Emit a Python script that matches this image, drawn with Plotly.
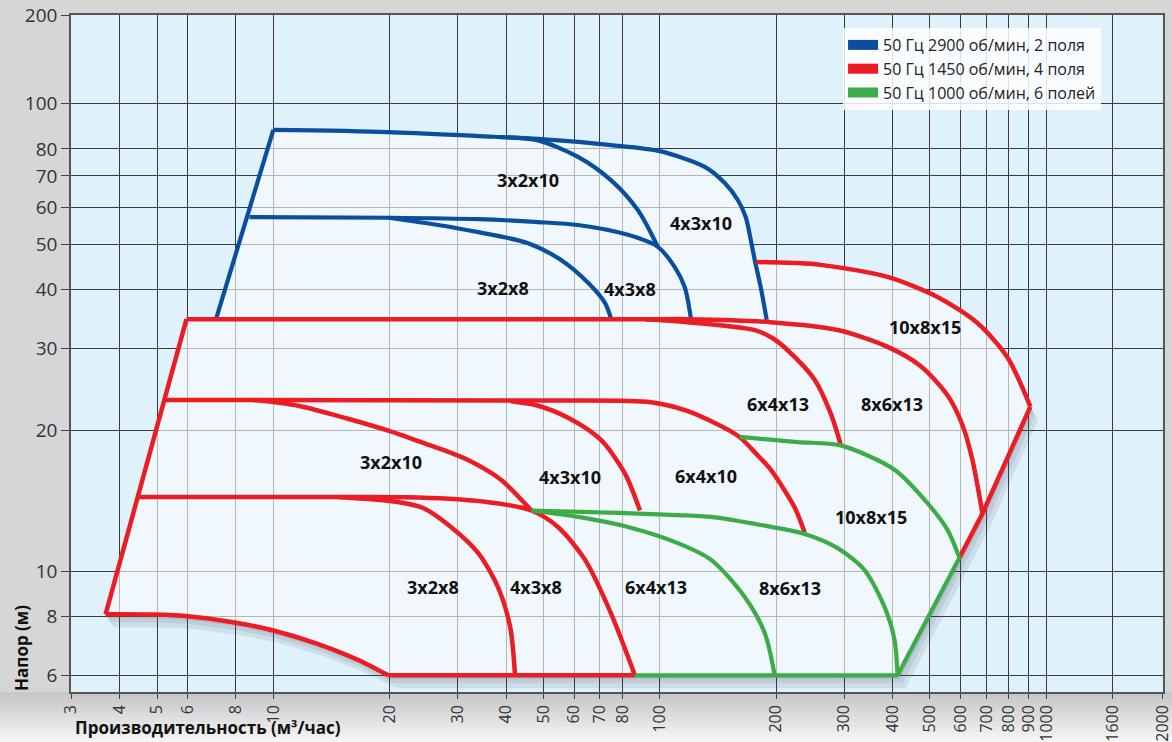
import numpy as np
import plotly.graph_objects as go

# ---------------- axis ticks ----------------
x_tick_vals = [3, 4, 5, 6, 8, 10, 20, 30, 40, 50, 60, 70, 80, 100, 200, 300, 400,
               500, 600, 700, 800, 900, 1000, 1485, 2000]
x_tick_text = ["3", "4", "5", "6", "8", "10", "20", "30", "40", "50", "60", "70", "80",
               "100", "200", "300", "400", "500", "600", "700", "800", "900", "1000",
               "1600", "2000"]
y_tick_vals = [6, 8, 10, 20, 30, 40, 50, 60, 70, 80, 100, 154.3]
y_tick_text = ["6", "8", "10", "20", "30", "40", "50", "60", "70", "80", "100", "200"]

# ---------------- 2900 rpm (blue) ----------------
blue_edge_q = [7.12, 10.0]
blue_edge_h = [34.8, 87.8]
blue_4x3x10_q = [10.0, 19.8, 33.9, 48.4, 74.7, 100, 130.7, 147.2, 159.1, 166.8, 171.9, 176.0, 182.4, 189.0]
blue_4x3x10_h = [87.8, 86.9, 85.2, 84.0, 81.5, 79.1, 73.2, 67.6, 62.2, 57.2, 51.1, 46.3, 40.5, 34.5]
blue_3x2x10_q = [38.1, 48.4, 61.4, 74.7, 87.7, 98.8]
blue_3x2x10_h = [84.8, 83.4, 76.9, 68.6, 59.2, 49.4]
blue_4x3x8_q = [8.67, 19.9, 33.9, 48.4, 61.4, 82.7, 98.8, 109.3, 116.0, 120.3]
blue_4x3x8_h = [57.2, 57.0, 56.6, 55.8, 55.0, 52.4, 49.4, 44.7, 40.5, 34.8]
blue_3x2x8_q = [19.9, 26.7, 33.9, 45.6, 55.5, 65.2, 72.1, 74.7]
blue_3x2x8_h = [57.0, 55.0, 53.1, 50.3, 46.3, 41.4, 37.5, 34.8]

# ---------------- 1450 rpm (red) ----------------
red_edge_q = [3.68, 5.96]
red_edge_h = [8.1, 34.6]
red_top_q = [5.96, 50, 91.5, 118.2, 193.6, 288.4, 388.3, 472.5, 555, 606.7, 644, 683.4]
red_top_h = [34.6, 34.6, 34.6, 34.6, 34.1, 32.8, 30.2, 27.5, 23.8, 20.56, 17.3, 13.3]
red_6x4x13_q = [91.5, 118.2, 176.0, 195.9, 214.2, 251.5, 276.6, 293.6]
red_6x4x13_h = [34.6, 34.1, 32.8, 31.5, 29.7, 25.7, 21.8, 18.7]
red_10x8x15_q = [177.1, 227.3, 260.6, 388.3, 522.8, 663.2, 792.9, 909.3]
red_10x8x15_h = [45.85, 45.6, 45.2, 42.6, 38.6, 33.96, 28.7, 22.5]
red_right_q = [909.3, 683.4, 596.0]
red_right_h = [22.5, 13.3, 10.7]
red_23_q = [5.22, 50, 94.8, 118.2, 159.1, 179.2, 193.6, 223.3, 237.0]
red_23_h = [23.25, 23.2, 23.0, 22.0, 19.5, 17.7, 16.5, 13.7, 12.1]
red_4x3x10_q = [41.2, 48.4, 57.9, 70.4, 81.2, 88.8]
red_4x3x10_h = [23.1, 22.6, 21.3, 19.1, 16.2, 13.5]
red_3x2x10_q = [8.88, 11.6, 15.6, 20.2, 23.7, 26.7, 31.9, 38.8, 46.5]
red_3x2x10_h = [23.25, 22.6, 21.2, 19.9, 19.0, 18.35, 17.3, 15.7, 13.5]
red_14_q = [4.46, 14.7, 23.7, 35.3, 46.5, 54.5, 64.0, 74.7, 86.2]
red_14_h = [14.43, 14.43, 14.4, 14.1, 13.5, 12.45, 10.6, 8.15, 6.0]
red_3x2x8_q = [14.7, 21.0, 24.4, 28.8, 33.9, 38.1, 41.0, 42.2]
red_3x2x8_h = [14.43, 14.08, 13.67, 12.45, 10.95, 9.27, 7.61, 6.0]
red_bottom_q = [3.68, 4.955, 5.925, 7.79, 9.88, 12.84, 16.58, 19.83]
red_bottom_h = [8.1, 8.09, 8.03, 7.80, 7.50, 7.03, 6.47, 6.0]
red_floor_q = [19.83, 86.2]
red_floor_h = [6.0, 6.0]

# ---------------- 1000 rpm (green) ----------------
green_6x4x13_q = [46.5, 61.4, 82.7, 111.3, 135.5, 165.8, 186.8, 198.3]
green_6x4x13_h = [13.5, 13.08, 12.45, 11.5, 10.6, 8.82, 7.39, 6.0]
green_8x6x13_q = [46.5, 77.9, 111.3, 135.5, 182.4, 237.0, 288.4, 338.6, 381.4, 404.8, 412.1]
green_8x6x13_h = [13.5, 13.34, 13.2, 13.08, 12.57, 12.03, 11.22, 10.07, 8.40, 7.14, 6.0]
green_10x8x15_q = [160.9, 227.3, 293.6, 404.8, 492.6, 555, 596]
green_10x8x15_h = [19.4, 18.9, 18.6, 16.5, 14.0, 12.27, 10.7]
green_right_q = [596.0, 412.1]
green_right_h = [10.7, 6.0]
green_floor_q = [86.2, 412.1]
green_floor_h = [6.0, 6.0]

# ---------------- labels ----------------
label_text = ["3x2x10", "4x3x10", "3x2x8", "4x3x8",
              "10x8x15", "6x4x13", "8x6x13", "3x2x10", "4x3x10", "6x4x10",
              "3x2x8", "4x3x8", "6x4x13",
              "10x8x15", "8x6x13"]
label_q = [45.6, 127.6, 39.3, 83.6, 484, 201.8, 397.7, 20.2, 58.5, 131.5, 25.9, 47.8, 97.6, 351, 216.7]
label_h = [68.6, 55.6, 40.3, 40.1, 33.3, 22.8, 22.8, 17.1, 15.9, 16.0, 9.27, 9.27, 9.27, 13.08, 9.22]

legend_names = ["50 Гц 2900 об/мин, 2 поля", "50 Гц 1450 об/мин, 4 поля", "50 Гц 1000 об/мин, 6 полей"]

BLUE = "#0a4f9e"
RED = "#ec1c24"
GREEN = "#3dab47"
legend_colors = [BLUE, RED, GREEN]

PX_PER_DEC_X = 387.0
PX_PER_DEC_Y = 468.0

fig = go.Figure()


def shifted(qs, hs, dx_px, dy_px):
    fx = 10 ** (dx_px / PX_PER_DEC_X)
    fy = 10 ** (-dy_px / PX_PER_DEC_Y)
    return [q * fx for q in qs], [h * fy for h in hs]


# shadow bands along lower/right boundary
low_q = red_bottom_q + green_floor_q[1:] + green_right_q[::-1][1:] + red_right_q[::-1][1:]
low_h = red_bottom_h + green_floor_h[1:] + green_right_h[::-1][1:] + red_right_h[::-1][1:]
for k in (4, 8, 13):
    sq, sh = shifted(low_q, low_h, k * 0.6, k)
    fig.add_trace(go.Scatter(x=low_q + sq[::-1], y=low_h + sh[::-1], mode="lines",
                             fill="toself", fillcolor="rgba(60,75,90,0.11)",
                             line=dict(width=0), hoverinfo="skip", showlegend=False))

# envelope fill (union of the three speed ranges)
n_top = sum(1 for q in blue_4x3x10_q if q < red_10x8x15_q[0])
env_q = (red_edge_q + blue_edge_q + blue_4x3x10_q[1:n_top] + red_10x8x15_q + red_right_q[1:]
         + green_right_q[1:] + red_bottom_q[::-1])
env_h = (red_edge_h + blue_edge_h + blue_4x3x10_h[1:n_top] + red_10x8x15_h + red_right_h[1:]
         + green_right_h[1:] + red_bottom_h[::-1])
fig.add_trace(go.Scatter(x=env_q, y=env_h, mode="lines", fill="toself",
                         fillcolor="rgba(250,252,253,0.64)", line=dict(width=0),
                         hoverinfo="skip", showlegend=False))


def add_line(q, h, color, width=4.2, shape="spline"):
    line = dict(color=color, width=width, shape=shape)
    if shape == "spline":
        line["smoothing"] = 0.8
    fig.add_trace(go.Scatter(x=q, y=h, mode="lines", line=line,
                             hoverinfo="skip", showlegend=False))


# blue
add_line(blue_edge_q, blue_edge_h, BLUE, shape="linear")
add_line(blue_4x3x10_q, blue_4x3x10_h, BLUE)
add_line(blue_3x2x10_q, blue_3x2x10_h, BLUE)
add_line(blue_4x3x8_q, blue_4x3x8_h, BLUE)
add_line(blue_3x2x8_q, blue_3x2x8_h, BLUE)
# red
add_line(red_edge_q, red_edge_h, RED, 4.5, "linear")
add_line(red_top_q, red_top_h, RED, 4.5)
add_line(red_6x4x13_q, red_6x4x13_h, RED, 4.5)
add_line(red_10x8x15_q, red_10x8x15_h, RED, 4.5)
add_line(red_right_q, red_right_h, RED, 4.5, "linear")
add_line(red_23_q, red_23_h, RED, 4.5)
add_line(red_4x3x10_q, red_4x3x10_h, RED, 4.5)
add_line(red_3x2x10_q, red_3x2x10_h, RED, 4.5)
add_line(red_14_q, red_14_h, RED, 4.5)
add_line(red_3x2x8_q, red_3x2x8_h, RED, 4.5)
add_line(red_bottom_q, red_bottom_h, RED, 4.5)
add_line(red_floor_q, red_floor_h, RED, 4.5, "linear")
# green
add_line(green_6x4x13_q, green_6x4x13_h, GREEN)
add_line(green_8x6x13_q, green_8x6x13_h, GREEN)
add_line(green_10x8x15_q, green_10x8x15_h, GREEN)
add_line(green_right_q, green_right_h, GREEN, shape="linear")
add_line(green_floor_q, green_floor_h, GREEN, shape="linear")

# legend entries
for i, (name, col) in enumerate(zip(legend_names, legend_colors)):
    fig.add_trace(go.Scatter(x=[None], y=[None], mode="lines", name=name,
                             legendgroup=f"g{i}",
                             line=dict(color=col, width=10)))

# curve labels
for t, q, h in zip(label_text, label_q, label_h):
    fig.add_annotation(x=np.log10(q), y=np.log10(h), xref="x", yref="y", text=f"<b>{t}</b>",
                       showarrow=False, xanchor="center", yanchor="middle",
                       font=dict(family="Open Sans", size=18, color="#111"))

# axis titles
fig.add_annotation(x=0.1255, y=-0.0530, xref="paper", yref="paper",
                   xanchor="center", yanchor="middle",
                   text="<b>Производительность (м³/час)</b>", showarrow=False,
                   font=dict(family="Open Sans", size=17, color="#111"))
fig.add_annotation(x=-0.0449, y=0.065, xref="paper", yref="paper",
                   xanchor="center", yanchor="middle",
                   text="<b>Напор (м)</b>", showarrow=False, textangle=-90,
                   font=dict(family="Open Sans", size=17, color="#111"))

# bottom background gradient
n_b = 10
for i in range(n_b):
    f = i / (n_b - 1)
    c = int(200 + (244 - 200) * f)
    fig.add_shape(type="rect", xref="paper", yref="paper", layer="below",
                  x0=-0.07, x1=1.01, y0=-i * 50 / 677 / n_b, y1=-(i + 1) * 50 / 677 / n_b - 0.001,
                  fillcolor=f"rgb({c},{c},{c})", line=dict(width=0))

fig.update_xaxes(type="log", range=[np.log10(2.995), np.log10(2004)], automargin=False,
                 tickvals=x_tick_vals, ticktext=x_tick_text, tickangle=-90,
                 ticks="outside", ticklen=5, tickcolor="#444", tickwidth=1,
                 ticklabeloverflow="allow",
                 showgrid=True, gridcolor="#3a3a3a", gridwidth=1,
                 showline=True, linecolor="#555", linewidth=1.5, mirror=True,
                 zeroline=False, tickfont=dict(family="Open Sans", size=16, color="#333"))
fig.update_yaxes(type="log", range=[0.7425, 2.1891], automargin=False,
                 tickvals=y_tick_vals, ticktext=y_tick_text,
                 ticks="outside", ticklen=8, tickcolor="#444", tickwidth=1,
                 ticklabeloverflow="allow",
                 showgrid=True, gridcolor="#3a3a3a", gridwidth=1,
                 showline=True, linecolor="#555", linewidth=1.5, mirror=True,
                 zeroline=False, tickfont=dict(family="Open Sans", size=19, color="#333"))

fig.update_layout(
    width=1172, height=742,
    margin=dict(l=71, r=9, t=15, b=50, autoexpand=False),
    paper_bgcolor="#d6d6d6",
    plot_bgcolor="#dff1fb",
    font=dict(family="Open Sans", color="#333"),
    showlegend=True,
    legend=dict(x=0.707, y=0.9808, xanchor="left", yanchor="top",
                bgcolor="rgba(255,255,255,0.85)", borderwidth=0,
                font=dict(family="Open Sans", size=16, color="#222"),
                tracegroupgap=0, itemwidth=30),
)

fig.write_html("out.html",
               config={"displayModeBar": False},
               post_script="document.body.style.margin='0px';"
                           "document.body.style.overflow='hidden';"
                           "document.body.style.background='#d6d6d6';")
